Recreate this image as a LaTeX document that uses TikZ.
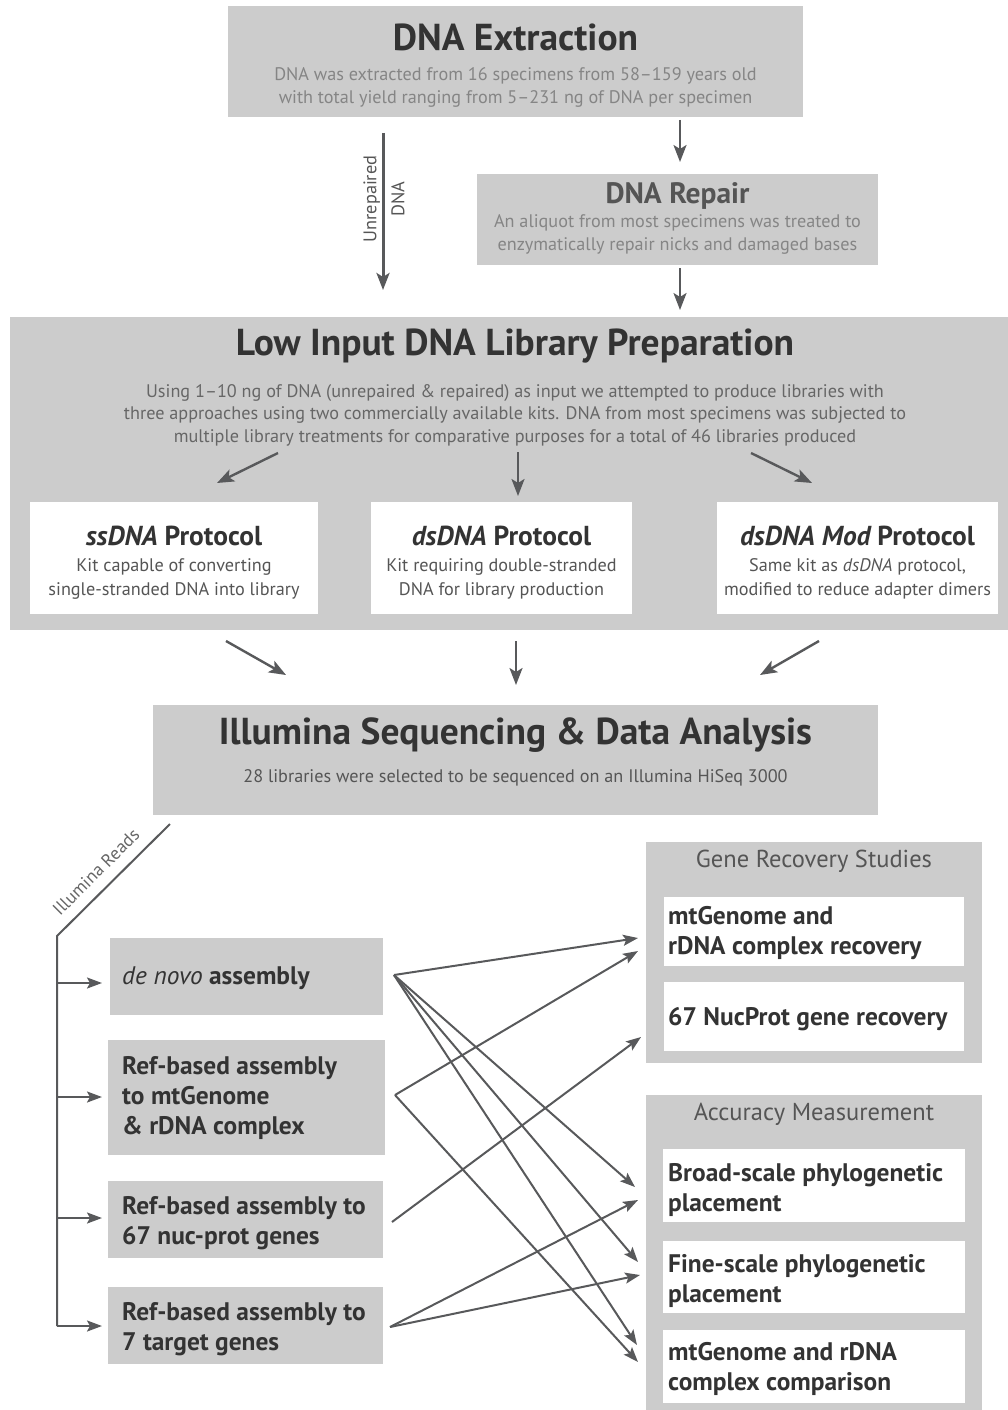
\documentclass[tikz,border=0pt]{standalone}
\usepackage{fontspec}
\setmainfont{PT Sans}
\usetikzlibrary{arrows.meta}

\definecolor{boxgray}{HTML}{CCCCCC}
\definecolor{arrowgray}{HTML}{58595B}
\definecolor{darktext}{HTML}{333333}
\definecolor{midtext}{HTML}{555555}
\definecolor{softtext}{HTML}{666666}
\definecolor{lighttext}{HTML}{858585}

\tikzset{
  panel/.style={rectangle, fill=boxgray, inner sep=0pt},
  card/.style={rectangle, fill=white, inner sep=0pt},
  flow/.style={draw=arrowgray, line width=2.4pt,
    -{Stealth[length=17pt, width=13pt, inset=4pt]}},
  link/.style={draw=arrowgray, line width=2pt,
    -{Stealth[length=15pt, width=11pt, inset=3pt]}},
  bigtitle/.style={font=\bfseries\fontsize{37.5}{42}\selectfont, text=darktext},
  subtitle/.style={font=\bfseries\fontsize{27.4}{31}\selectfont, text=darktext},
  bodytext/.style={font=\fontsize{18.2}{23}\selectfont, align=center},
  item/.style={font=\bfseries\fontsize{25.4}{30}\selectfont, text=darktext,
    align=left, anchor=west, inner sep=0pt, yshift=-2pt},
  studytitle/.style={font=\fontsize{24.5}{28}\selectfont, text=midtext}
}

\begin{document}
\begin{tikzpicture}[x=1pt, y=-1pt]
  \useasboundingbox (0,0) rectangle (1008,1410);

  % extraction and repair
  \node (ext) [panel, minimum width=575pt, minimum height=111pt] at (515.5,61.5) {};
  \node (extT) [bigtitle] at (515.5,37) {DNA Extraction};
  \node (extB) [bodytext, text=lighttext] at (515.5,87)
    {DNA was extracted from 16 specimens from 58--159 years old\\
     with total yield ranging from 5--231 ng of DNA per specimen};

  \node (rep) [panel, minimum width=401pt, minimum height=91pt] at (677.5,219.5) {};
  \node (repT) [subtitle, text=midtext, font=\bfseries\fontsize{29.5}{33}\selectfont]
    at (677.5,196) {DNA Repair};
  \node (repB) [bodytext, text=lighttext] at (677.5,234)
    {An aliquot from most specimens was treated to\\
     enzymatically repair nicks and damaged bases};

  % library preparation
  \node (lib) [panel, minimum width=998pt, minimum height=313pt] at (509,473.5) {};
  \node (libT) [bigtitle] at (515,346) {Low Input DNA Library Preparation};
  \node (libB) [bodytext, text=softtext, font=\fontsize{18.2}{22.5}\selectfont] at (515,415)
    {Using 1--10 ng of DNA (unrepaired \& repaired) as input we attempted to produce libraries with\\
     three approaches using two commercially available kits. DNA from most specimens was subjected to\\
     multiple library treatments for comparative purposes for a total of 46 libraries produced};

  \node (ss) [card, minimum width=288pt, minimum height=112pt] at (174,558) {};
  \node (ds) [card, minimum width=261pt, minimum height=112pt] at (501.5,558) {};
  \node (md) [card, minimum width=281pt, minimum height=112pt] at (857.5,558) {};
  \node (ssT) [subtitle] at (174,536) {\itshape ssDNA\upshape\ Protocol};
  \node (dsT) [subtitle] at (501.5,536) {\itshape dsDNA\upshape\ Protocol};
  \node (mdT) [subtitle] at (857.5,536) {\itshape dsDNA Mod\upshape\ Protocol};
  \node (ssB) [bodytext, text=midtext, font=\fontsize{18.2}{24}\selectfont] at (174,579)
    {Kit capable of converting\\single-stranded DNA into library};
  \node (dsB) [bodytext, text=midtext, font=\fontsize{18.2}{24}\selectfont] at (501.5,579)
    {Kit requiring double-stranded\\DNA for library production};
  \node (mdB) [bodytext, text=midtext, font=\fontsize{18.2}{24}\selectfont] at (857.5,579)
    {Same kit as \textit{dsDNA} protocol,\\modified to reduce adapter dimers};

  % sequencing
  \node (seq) [panel, minimum width=725pt, minimum height=110pt] at (515.5,760) {};
  \node (seqT) [bigtitle] at (515.5,735) {Illumina Sequencing \& Data Analysis};
  \node (seqB) [bodytext, text=midtext] at (515.5,778)
    {28 libraries were selected to be sequenced on an Illumina HiSeq 3000};

  % assemblies
  \node (dn) [panel, minimum width=273pt, minimum height=77pt] at (246.5,976.5) {};
  \node (rm) [panel, minimum width=277pt, minimum height=115pt] at (246.5,1097.5) {};
  \node (rn) [panel, minimum width=275pt, minimum height=77pt] at (245.5,1219.5) {};
  \node (rt) [panel, minimum width=275pt, minimum height=77pt] at (245.5,1325.5) {};
  \node (dnT) [item] at (122,976) {\mdseries\itshape de novo\upshape\bfseries\ assembly};
  \node (rmT) [item] at (122,1096) {Ref-based assembly\\to mtGenome\\\& rDNA complex};
  \node (rnT) [item] at (122,1221) {Ref-based assembly to\\67 nuc-prot genes};
  \node (rtT) [item] at (122,1327) {Ref-based assembly to\\7 target genes};

  % studies
  \node (rec) [panel, minimum width=336pt, minimum height=221pt] at (814,952.5) {};
  \node (recT) [studytitle] at (814,861) {Gene Recovery Studies};
  \node (rc1) [card, minimum width=300pt, minimum height=69pt] at (814,931.5) {};
  \node (rc2) [card, minimum width=300pt, minimum height=69pt] at (814,1016.5) {};
  \node (rc1T) [item] at (668,931) {mtGenome and\\rDNA complex recovery};
  \node (rc2T) [item] at (668,1017) {67 NucProt gene recovery};

  \node (acc) [panel, minimum width=336pt, minimum height=315pt] at (814,1252.5) {};
  \node (accT) [studytitle] at (814,1114) {Accuracy Measurement};
  \node (ac1) [card, minimum width=302pt, minimum height=73pt] at (814,1185.5) {};
  \node (ac2) [card, minimum width=302pt, minimum height=72pt] at (814,1277) {};
  \node (ac3) [card, minimum width=302pt, minimum height=73pt] at (814,1366.5) {};
  \node (ac1T) [item] at (668,1188) {Broad-scale phylogenetic\\placement};
  \node (ac2T) [item] at (668,1279) {Fine-scale phylogenetic\\placement};
  \node (ac3T) [item] at (668,1367) {mtGenome and rDNA\\complex comparison};

  % arrow ends
  \coordinate (e1) at (680,120);  \coordinate (e2) at (680,162);
  \coordinate (u1) at (383,133);  \coordinate (u2) at (383,290);
  \coordinate (r1) at (680,268);  \coordinate (r2) at (680,310);
  \coordinate (p1) at (278,453);  \coordinate (p2) at (217,483);
  \coordinate (p3) at (518,452);  \coordinate (p4) at (518,496);
  \coordinate (p5) at (751,453);  \coordinate (p6) at (812,483);
  \coordinate (q1) at (226,641);  \coordinate (q2) at (286,675);
  \coordinate (q3) at (516,641);  \coordinate (q4) at (516,685);
  \coordinate (q5) at (819,641);  \coordinate (q6) at (760,675);

  \draw[flow] (e1) -- (e2);
  \draw[flow, line width=3pt] (u1) -- (u2);
  \draw[flow] (r1) -- (r2);
  \foreach \a/\b in {p1/p2, p3/p4, p5/p6, q1/q2, q3/q4, q5/q6}
    \draw[flow] (\a) -- (\b);

  \node (unrep) [rotate=90, align=center, text=midtext,
    font=\fontsize{18.3}{28}\selectfont] at (384,199) {Unrepaired\\DNA};

  % illumina reads fork
  \coordinate (rd0) at (170,824);
  \coordinate (rd1) at (57,936);
  \coordinate (rd2) at (57,1326);
  \draw[arrowgray, line width=2pt] (rd0) -- (rd1) -- (rd2);
  \node (reads) [rotate=45, text=softtext, font=\fontsize{18}{20}\selectfont]
    at (96,872) {Illumina Reads};
  \foreach \y in {983,1097,1218,1326}
    \draw[link] (57,\y) -- (102,\y);

  % assemblies to studies
  \coordinate (dnO) at (394,975);  \coordinate (rmO) at (395,1095);
  \coordinate (rnO) at (392,1222); \coordinate (rtO) at (390,1327);
  \coordinate (t1) at (638,938);   \coordinate (t2) at (638,951);
  \coordinate (t3) at (641,1037);  \coordinate (t4) at (635,1187);
  \coordinate (t5) at (638,1200);  \coordinate (t6) at (638,1262);
  \coordinate (t7) at (640,1275);  \coordinate (t8) at (637,1345);
  \coordinate (t9) at (638,1362);
  \foreach \a/\b in {dnO/t1, dnO/t4, dnO/t6, dnO/t8, rmO/t2, rmO/t9,
                     rnO/t3, rtO/t5, rtO/t7}
    \draw[link] (\a) -- (\b);

\end{tikzpicture}
\end{document}
